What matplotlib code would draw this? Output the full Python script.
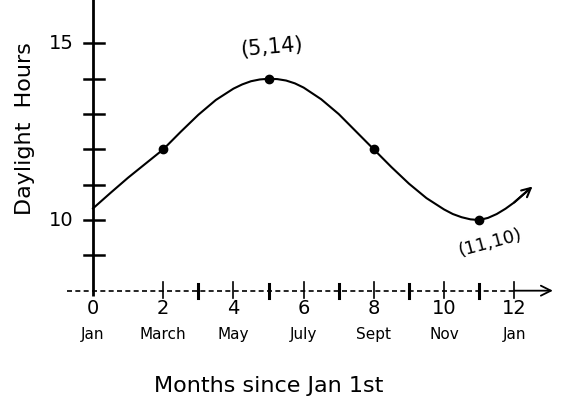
import matplotlib
matplotlib.use("Agg")
import matplotlib.pyplot as plt

# Data
months = [0, 0.5, 1, 1.5, 2, 2.5, 3, 3.5, 4, 4.25, 4.5, 4.75, 5, 5.25, 5.5,
          5.75, 6, 6.5, 7, 7.5, 8, 8.5, 9, 9.5, 10, 10.25, 10.5, 10.75, 11,
          11.25, 11.5, 11.75, 12, 12.4]
hours = [10.33, 10.77, 11.2, 11.6, 12.0, 12.5, 12.98, 13.4, 13.72, 13.84,
         13.93, 13.98, 14.0, 13.99, 13.95, 13.87, 13.75, 13.42, 13.0, 12.5,
         12.0, 11.5, 11.03, 10.62, 10.3, 10.17, 10.08, 10.02, 10.0, 10.06,
         10.17, 10.32, 10.5, 10.85]
marked_x = [2, 5, 8, 11]
marked_y = [12, 14, 12, 10]
x_ticks_labeled = [0, 2, 4, 6, 8, 10, 12]
x_tick_labels = ["0", "2", "4", "6", "8", "10", "12"]
month_names = ["Jan", "March", "May", "July", "Sept", "Nov", "Jan"]
x_ticks_minor = [3, 5, 7, 9, 11]
y_ticks = [9, 10, 11, 12, 13, 14, 15]
y_tick_labels = {10: "10", 15: "15"}

fig = plt.figure(figsize=(5.62, 4.15), dpi=100)
ax = fig.add_axes([0, 0, 1, 1])
ax.set_xlim(-2.65, 13.36)
ax.set_ylim(4.48, 16.23)
ax.axis("off")

k = "black"
x_axis_y = 8.0

# y axis line
ax.plot([0, 0], [7.85, 16.3], color=k, lw=2.0, solid_capstyle="butt")
# y ticks
for yv in y_ticks:
    ax.plot([-0.27, 0.3], [yv, yv], color=k, lw=1.8)
for yv, lab in y_tick_labels.items():
    ax.text(-0.55, yv, lab, ha="right", va="center", fontsize=14)

# x axis dashed line + solid end with arrow
ax.plot([-0.75, 12.0], [x_axis_y, x_axis_y], color=k, lw=1.2, ls=(0, (3, 2)))
ax.annotate("", xy=(13.1, x_axis_y), xytext=(12.0, x_axis_y),
            arrowprops=dict(arrowstyle="->", color=k, lw=1.3,
                            mutation_scale=18, shrinkA=0, shrinkB=0))
# x ticks
for xv in x_ticks_labeled[1:]:
    ax.plot([xv, xv], [x_axis_y - 0.2, x_axis_y + 0.25], color=k, lw=1.2)
for xv in x_ticks_minor:
    ax.plot([xv, xv], [x_axis_y - 0.22, x_axis_y + 0.18], color=k, lw=2.2)
for xv, lab, mn in zip(x_ticks_labeled, x_tick_labels, month_names):
    ax.text(xv, 7.5, lab, ha="center", va="center", fontsize=14)
    ax.text(xv, 6.75, mn, ha="center", va="center", fontsize=11)

# curve
ax.plot(months, hours, color=k, lw=1.5, solid_joinstyle="round")
ax.annotate("", xy=(months[-1] + 0.12, hours[-1] + 0.1),
            xytext=(months[-2], hours[-2]),
            arrowprops=dict(arrowstyle="->", color=k, lw=1.5,
                            mutation_scale=16, shrinkA=0, shrinkB=0))
ax.plot(marked_x, marked_y, "o", color=k, ms=6)

# annotations
ax.text(5.1, 14.9, "(5,14)", ha="center", va="center", fontsize=15, rotation=5)
ax.text(11.3, 9.35, "(11,10)", ha="center", va="center", fontsize=13, rotation=15)

# axis labels
ax.text(-1.95, 12.6, "Daylight  Hours", ha="center", va="center",
        fontsize=16, rotation=90)
ax.text(5.0, 5.3, "Months since Jan 1st", ha="center", va="center",
        fontsize=16)

fig.savefig("out.png", dpi=100)
